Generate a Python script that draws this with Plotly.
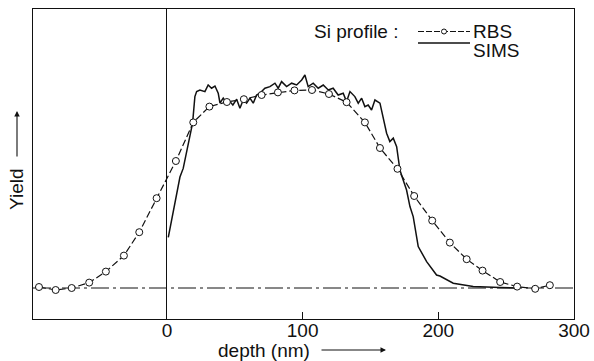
import plotly.graph_objects as go

# ---- data ----
rbs_depth = [-94.3, -82.0, -70.2, -57.3, -45.0, -31.7, -20.4, -7.6, 6.6, 19.4, 31.3,
             44.2, 56.7, 69.8, 81.8, 94.0, 106.9, 119.4, 132.4, 145.9, 157.0, 169.9,
             182.2, 195.5, 208.5, 220.9, 232.6, 245.6, 258.1, 271.4, 282.2]
rbs_yield = [0.005, -0.01, 0.0, 0.027, 0.082, 0.162, 0.279, 0.449, 0.635, 0.828, 0.907,
             0.93, 0.944, 0.965, 0.978, 0.988, 0.99, 0.97, 0.929, 0.828, 0.70, 0.596,
             0.46, 0.337, 0.227, 0.144, 0.087, 0.03, 0.007, -0.004, 0.014]

sims_depth = [1.0, 4.6, 9.6, 12.0, 15.7, 18.9, 20.6, 21.9, 24.3, 28.0, 30.4, 32.9, 35.4,
              37.8, 39.1, 41.5, 44.0, 46.4, 48.6, 51.4, 53.8, 56.2, 58.7, 61.2, 63.6,
              66.1, 68.5, 72.2, 75.9, 79.6, 82.0, 84.5, 88.2, 91.9, 95.6, 99.3, 101.7,
              104.1, 107.8, 111.5, 115.2, 118.9, 122.5, 126.2, 129.9, 132.4, 134.9,
              138.5, 141.0, 143.5, 145.9, 148.3, 150.8, 153.3, 157.0, 159.4, 161.9,
              164.3, 166.8, 169.3, 170.4, 171.7, 174.1, 176.6, 179.1, 181.5, 185.2,
              191.4, 198.7, 201.2, 211.0, 225.7, 245.4, 260.1]
sims_yield = [0.253, 0.374, 0.555, 0.598, 0.724, 0.824, 0.957, 0.982, 0.99, 0.982, 1.015,
              0.999, 1.01, 0.974, 0.925, 0.949, 0.924, 0.932, 0.915, 0.944, 0.899, 0.94,
              0.924, 0.949, 0.924, 0.965, 0.974, 0.999, 1.007, 1.024, 0.999, 1.032,
              1.007, 1.024, 1.015, 1.04, 1.065, 1.007, 1.024, 0.999, 1.015, 0.99, 0.999,
              0.965, 0.974, 0.932, 0.982, 0.957, 0.924, 0.949, 0.907, 0.915, 0.89, 0.94,
              0.924, 0.857, 0.774, 0.732, 0.749, 0.707, 0.657, 0.59, 0.54, 0.49, 0.407,
              0.357, 0.207, 0.132, 0.065, 0.06, 0.024, 0.007, 0.002, 0.0]

x_ticks = [0, 100, 200, 300]
x_range = [-98.7, 300]
y_range = [-0.155, 1.395]

FONT = "Liberation Sans, Arial, sans-serif"
INK = "#111111"

fig = go.Figure()

fig.add_trace(go.Scatter(
    x=sims_depth, y=sims_yield, mode="lines", name="SIMS",
    line=dict(color=INK, width=1.5), showlegend=False))

fig.add_trace(go.Scatter(
    x=rbs_depth, y=rbs_yield, mode="lines+markers", name="RBS",
    line=dict(color=INK, width=1.2, dash="7px,3px"),
    marker=dict(symbol="circle", size=7, color="white", line=dict(color=INK, width=1)),
    showlegend=False))

# dashed baseline at zero yield
fig.add_shape(type="line", xref="paper", yref="y", x0=0, x1=1, y0=0, y1=0,
              line=dict(color=INK, width=1, dash="18px,4px,3px,4px"), layer="below")

# ---- manual legend ----
def px_x(p):
    return (p - 33) / 541

def px_y(p):
    return (319 - p) / 310

fig.add_annotation(xref="paper", yref="paper", x=px_x(312), y=px_y(31.5), text="Si profile :",
                   showarrow=False, xanchor="left", yanchor="middle",
                   font=dict(family=FONT, size=19, color=INK))
fig.add_shape(type="line", xref="paper", yref="paper", x0=px_x(418), x1=px_x(470),
              y0=px_y(31.5), y1=px_y(31.5), line=dict(color=INK, width=1.2, dash="6px,2px"))
fig.add_shape(type="circle", xref="paper", yref="paper",
              x0=px_x(441.5), x1=px_x(446.5), y0=px_y(34), y1=px_y(29),
              line=dict(color=INK, width=1), fillcolor="white")
fig.add_annotation(xref="paper", yref="paper", x=px_x(471), y=px_y(31.5), text="RBS",
                   showarrow=False, xanchor="left", yanchor="middle",
                   font=dict(family=FONT, size=19, color=INK))
fig.add_shape(type="line", xref="paper", yref="paper", x0=px_x(418), x1=px_x(470),
              y0=px_y(43), y1=px_y(43), line=dict(color=INK, width=1.3))
fig.add_annotation(xref="paper", yref="paper", x=px_x(471), y=px_y(50.5), text="SIMS",
                   showarrow=False, xanchor="left", yanchor="middle",
                   font=dict(family=FONT, size=19, color=INK))

# ---- axis titles with arrows ----
fig.add_annotation(xref="paper", yref="paper", x=px_x(264), y=px_y(350), text="depth (nm)",
                   showarrow=False, xanchor="center", yanchor="middle",
                   font=dict(family=FONT, size=19, color=INK))
fig.add_annotation(xref="paper", yref="paper", x=px_x(386), y=px_y(350), text="",
                   showarrow=True, ax=-66, ay=0, axref="pixel", ayref="pixel",
                   arrowhead=2, arrowsize=1, arrowwidth=1.1, arrowcolor=INK, standoff=0)
fig.add_annotation(xref="paper", yref="paper", x=px_x(17), y=px_y(189), text="Yield",
                   textangle=-90, showarrow=False, xanchor="center", yanchor="middle",
                   font=dict(family=FONT, size=19, color=INK))
fig.add_annotation(xref="paper", yref="paper", x=px_x(17), y=px_y(111), text="",
                   showarrow=True, ax=0, ay=47, axref="pixel", ayref="pixel",
                   arrowhead=2, arrowsize=1, arrowwidth=1.1, arrowcolor=INK, standoff=0)

fig.update_xaxes(range=x_range, tickvals=x_ticks, ticktext=[str(v) for v in x_ticks],
                 ticks="inside", ticklen=7, tickwidth=1, tickcolor=INK,
                 ticklabelstandoff=-6,
                 showline=True, linecolor=INK, linewidth=1.2, mirror=True,
                 showgrid=False, zeroline=True, zerolinecolor=INK, zerolinewidth=1,
                 tickfont=dict(family=FONT, size=19, color=INK), automargin=False)
fig.update_yaxes(range=y_range, showticklabels=False, ticks="",
                 showline=True, linecolor=INK, linewidth=1.2, mirror=True,
                 showgrid=False, zeroline=False, automargin=False)

fig.update_layout(width=594, height=361, margin=dict(l=33, r=20, t=9, b=42),
                  paper_bgcolor="white", plot_bgcolor="white",
                  font=dict(family=FONT, size=19, color=INK), showlegend=False)

fig.write_html("out.html")
